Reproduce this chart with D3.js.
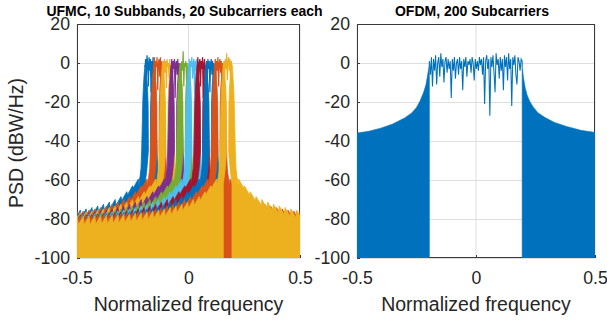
<!DOCTYPE html>
<html>
<head>
<meta charset="utf-8">
<script src="https://cdn.jsdelivr.net/npm/d3@7"></script>
<style>
  body { margin: 0; background: #fff; }
  svg { display: block; font-family: "Liberation Sans", Arial, Helvetica, sans-serif; }
</style>
</head>
<body>
<svg id="fig" width="607" height="322"></svg>
<script>
/* ── data ─────────────────────────────────────────────────────────── */
const xTicks = [-0.5, 0, 0.5];
const yTicks = [20, 0, -20, -40, -60, -80, -100];

// UFMC: 10 subbands of 20 subcarriers, edges in normalized frequency
const subbandEdges = [-0.195, -0.156, -0.117, -0.078, -0.039, 0, 0.039, 0.078, 0.117, 0.156, 0.195];

// in-band PSD (dBW/Hz) of each subband, left to right across the subband
const subbandTops = [
  [-2, 2, -8, 4, 0, -12, 3, -4, 2, -15, 1, -6, 3, -3],
  [-3, 3, -10, 1, -2, 3, -14, 0, 2, -7, 3, -20, 1, -4],
  [-4, 1, -9, 2, -5, 1, -13, 2, -2, 0, -8, 2, -5, -2],
  [-5, 2, -12, 1, -3, 2, -18, 0, 1, -6, 2, -10, 0, -3],
  [-6, 0, -10, 1, -4, 6, -12, 0, -2, 1, -9, 0, -15, -2],
  [-3, 2, -14, 1, -2, 3, -8, 0, 2, -16, 1, -4, 2, -2],
  [-4, 3, -9, 0, 2, -12, 1, -3, 3, -18, 0, 2, -6, -1],
  [-2, 1, -10, 2, -3, 1, -15, 0, 2, -6, 1, -11, 0, -3],
  [-3, 2, -8, 1, -4, 3, -12, 0, 2, -5, 1, -16, 0, -2],
  [-2, 1, -7, 2, -3, 5, -9, 1, 3, -4, 2, -12, 1, -3]
];

// skirt outside a subband edge: [distance from edge, dB]
const skirtNear = [[0, -1], [0.004, -6], [0.008, -14], [0.010, -20], [0.013, -35], [0.015, -45],
  [0.018, -54], [0.022, -58], [0.025, -60], [0.027, -63]];
// sidelobe teeth further out: [distance from edge, dB]
const sidelobes = [
  [0.030, -59.5], [0.052, -64], [0.056, -63], [0.078, -67.5], [0.082, -66], [0.104, -70.5],
  [0.108, -68.5], [0.130, -73], [0.134, -70], [0.156, -74.5], [0.160, -71.3], [0.182, -75.8],
  [0.186, -72.4], [0.208, -76.9], [0.212, -73.3], [0.234, -77.8], [0.238, -74.1], [0.260, -78.6],
  [0.264, -74.8], [0.286, -79.3], [0.290, -75.4], [0.312, -79.9], [0.316, -75.9], [0.338, -80.4],
  [0.342, -76.3], [0.364, -80.8], [0.368, -76.7], [0.390, -81.2], [0.394, -77.0], [0.416, -81.5],
  [0.420, -77.3], [0.442, -81.8], [0.446, -77.5], [0.468, -82.0], [0.472, -77.7], [0.494, -82.2],
  [0.498, -77.9], [0.520, -82.4], [0.524, -78.1], [0.546, -82.6], [0.550, -78.2], [0.572, -82.7],
  [0.576, -78.3], [0.598, -82.8], [0.602, -78.4], [0.624, -82.9], [0.628, -78.5], [0.650, -83.0],
  [0.654, -78.6], [0.676, -83.1], [0.680, -78.7], [0.702, -83.2], [0.706, -78.8], [0.728, -83.3]
];
// deep notch just inside a subband edge: [distance into the band, dB]
const skirtInner = [[0, -1], [0.006, -6], [0.011, -12], [0.014, -22], [0.015, -45], [0.008, -55], [0, -62]];

// OFDM: 200 subcarriers
const ofdmEdges = [-0.196, 0.194];
const ofdmInband = [
  1, -6, 3, -12, 2, -4, 4, -11, 0, 3,
  -7, 5, -2, 2, -10, 1, 3, -5, 2, -3,
  1, -18, 2, -4, 3, -8, 0, 2, -6, 3,
  -3, 1, -14, 2, -2, 3, -7, 1, -1, 2,
  -5, 3, 0, -9, 2, -3, 1, -4, 3, -1,
  2, -6, 3, -21, 1, 4, -3, 2, -27, 3,
  -2, 4, -5, -15, 5, -1, 2, -8, 3, -4,
  2, -14, 4, -2, 3, -9, 5, -3, 2, -22,
  3, -1, 4, -6, -11, 3, 1, -4, 2, 1
];
const ofdmSkirtLeft = [[-0.5, -35.9], [-0.45, -35], [-0.4, -33.4], [-0.35, -31.3], [-0.3, -28.2],
  [-0.27, -25.6], [-0.25, -22.8], [-0.235, -19.5], [-0.22, -15], [-0.21, -11], [-0.203, -6], [-0.196, -1]];
const ofdmSkirtRight = [[0.194, -2], [0.2, -8], [0.207, -13], [0.215, -16.5], [0.225, -19.5],
  [0.24, -22.5], [0.26, -25.5], [0.29, -28], [0.33, -30.5], [0.38, -32.5], [0.44, -34.5], [0.5, -35.6]];

/* ── layout & styles ───────────────────────────────────────────────── */
const colors = ["#0072BD", "#D95319", "#EDB120", "#7E2F8E", "#77AC30", "#4DBEEE", "#A2142F",
  "#0072BD", "#D95319", "#EDB120"];
const tickFont = 17.7, labelFont = 19.5;

const svg = d3.select("#fig");
const y = d3.scaleLinear().domain([-100, 20]).range([258, 24]);
const xL = d3.scaleLinear().domain([-0.5, 0.5]).range([77, 300]);
const xR = d3.scaleLinear().domain([-0.5, 0.5]).range([357, 595]);

function makeAxes(x, id, titleText) {
  const [x0, x1] = x.range();
  const [yb, yt] = y.range();
  const g = svg.append("g");

  // grid
  g.append("g").selectAll("line").data(xTicks).join("line")
    .attr("x1", d => x(d)).attr("x2", d => x(d)).attr("y1", yt).attr("y2", yb)
    .attr("stroke", "#dedede").attr("stroke-width", 1);
  g.append("g").selectAll("line").data(yTicks).join("line")
    .attr("x1", x0).attr("x2", x1).attr("y1", d => y(d) + 0.5).attr("y2", d => y(d) + 0.5)
    .attr("stroke", "#dedede").attr("stroke-width", 1);

  // box
  g.append("rect").attr("x", x0 + 0.5).attr("y", yt + 0.5)
    .attr("width", x1 - x0 - 1).attr("height", yb - yt - 1)
    .attr("fill", "none").attr("stroke", "#3a3a3a").attr("stroke-width", 1);

  const fmt = d => String(d);
  const ax = g.append("g").attr("transform", `translate(0,${yb})`)
    .call(d3.axisBottom(x).tickValues(xTicks).tickFormat(fmt).tickSizeInner(-3).tickSizeOuter(0).tickPadding(13));
  const ay = g.append("g").attr("transform", `translate(${x0},0)`)
    .call(d3.axisLeft(y).tickValues(yTicks).tickFormat(fmt).tickSizeInner(-3).tickSizeOuter(0).tickPadding(7));
  [ax, ay].forEach(a => {
    a.select(".domain").remove();
    a.selectAll("line").attr("stroke", "#3a3a3a");
    a.selectAll("text").attr("fill", "#262626").style("font-size", tickFont + "px")
      .style("font-family", "'Liberation Sans', Arial, sans-serif");
  });

  g.append("text").attr("x", (x0 + x1) / 2).attr("y", 311)
    .attr("text-anchor", "middle").attr("fill", "#262626").style("font-size", labelFont + "px")
    .text("Normalized frequency");
  g.append("text").attr("x", (x0 + x1) / 2 - 4).attr("y", 15.5)
    .attr("text-anchor", "middle").attr("fill", "#000").style("font-size", "14px")
    .style("font-weight", "bold").text(titleText);

  svg.append("clipPath").attr("id", id).append("rect")
    .attr("x", x0).attr("y", yt).attr("width", x1 - x0).attr("height", yb - yt);
  return svg.append("g").attr("clip-path", `url(#${id})`);
}

/* ── left: UFMC ─────────────────────────────────────────────────────── */
const plotL = makeAxes(xL, "clipL", "UFMC, 10 Subbands, 20 Subcarriers each");
const lineL = d3.line().x(p => xL(p[0])).y(p => y(p[1]));
const outer = skirtNear.concat(sidelobes);

function skirt(edge, dir) {
  // dir -1: lobe spreads to the left of the edge, +1: to the right
  const pts = [[edge + dir * outer[outer.length - 1][0], -100]];
  for (let i = outer.length - 1; i >= 0; i--) pts.push([edge + dir * outer[i][0], outer[i][1]]);
  skirtInner.forEach(p => pts.push([edge - dir * p[0], p[1]]));
  pts.push([edge, -100]);
  return pts;
}

subbandTops.forEach((tops, k) => {
  const a = subbandEdges[k], b = subbandEdges[k + 1];
  const sg = plotL.append("g");
  [skirt(a, -1), skirt(b, 1)].forEach(pts => {
    sg.append("path").attr("d", lineL(pts) + "Z")
      .attr("fill", colors[k]).attr("stroke", colors[k]).attr("stroke-width", 0.8)
      .attr("stroke-linejoin", "round");
  });
  const fx = d3.scaleLinear().domain([0, tops.length - 1]).range([a, b]);
  sg.append("path").attr("d", lineL(tops.map((v, i) => [fx(i), v])))
    .attr("fill", "none").attr("stroke", colors[k]).attr("stroke-width", 1.2);
});

/* ── right: OFDM ────────────────────────────────────────────────────── */
const plotR = makeAxes(xR, "clipR", "OFDM, 200 Subcarriers");
const blue = colors[0];
const areaR = d3.area().x(p => xR(p[0])).y0(y(-100)).y1(p => y(p[1]));
const lineR = d3.line().x(p => xR(p[0])).y(p => y(p[1]));
[ofdmSkirtLeft, ofdmSkirtRight].forEach(pts => {
  plotR.append("path").attr("d", areaR(pts)).attr("fill", blue)
    .attr("stroke", blue).attr("stroke-width", 0.6);
});
const fo = d3.scaleLinear().domain([0, ofdmInband.length - 1]).range(ofdmEdges);
const inband = [ofdmSkirtLeft[ofdmSkirtLeft.length - 1]]
  .concat(ofdmInband.map((v, i) => [fo(i), v]), [ofdmSkirtRight[0]]);
plotR.append("path").attr("d", lineR(inband)).attr("fill", "none")
  .attr("stroke", blue).attr("stroke-width", 1.05);

/* ── shared y label ─────────────────────────────────────────────────── */
svg.append("text").attr("transform", "translate(23,143) rotate(-90)")
  .attr("text-anchor", "middle").attr("fill", "#262626").style("font-size", labelFont + "px")
  .text("PSD (dBW/Hz)");
</script>
</body>
</html>
